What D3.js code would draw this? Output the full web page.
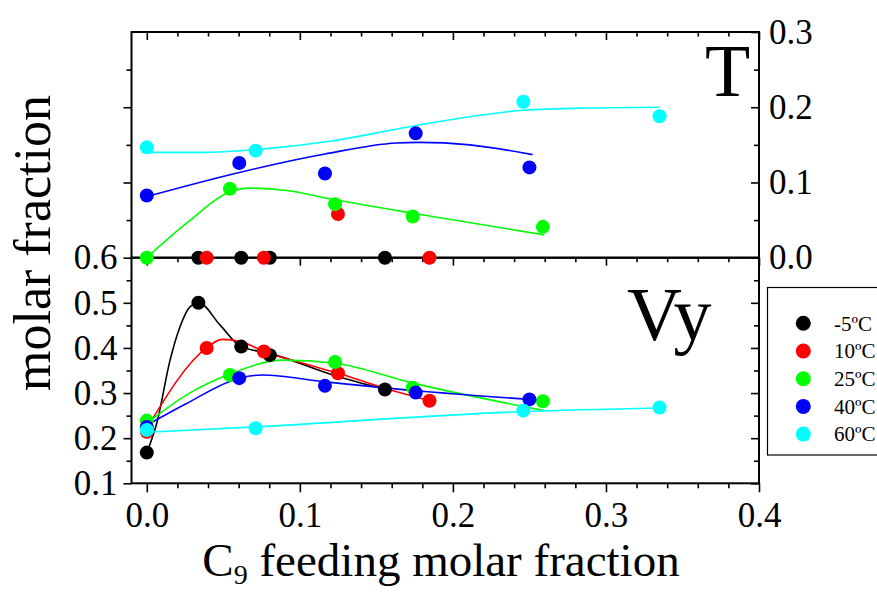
<!DOCTYPE html>
<html>
<head>
<meta charset="utf-8">
<script src="https://cdn.jsdelivr.net/npm/d3@7"></script>
<style>
  body { margin: 0; background: #fff; }
  text { font-family: "Liberation Serif", "Times New Roman", serif; fill: #000; }
</style>
</head>
<body>
<svg id="chart" width="877" height="593"></svg>
<script>
// Series: feeding temperature
const temps  = ["-5ºC", "10ºC", "25ºC", "40ºC", "60ºC"];
const colors = ["#000000", "#ff0000", "#00ff00", "#0000ff", "#00ffff"];

// Measured C9 feeding molar fraction for each series
const feedM5 = [0, 0.0337, 0.0617, 0.0804, 0.1556];
const feed10 = [0, 0.0391, 0.0765, 0.1249, 0.1847];
const feed25 = [0, 0.0543, 0.123, 0.1738, 0.2588];
const feed40 = [0, 0.0604, 0.1164, 0.1757, 0.250];
const feed60 = [0, 0.0711, 0.246, 0.335];

// T phase molar fraction (upper panel); -5ºC and 10ºC have no point at x = 0
const tFeedM5 = [0.0337, 0.0617, 0.0804, 0.1556];
const tM5     = [0, 0, 0, 0];
const tFeed10 = [0.0391, 0.0765, 0.1249, 0.1847];
const t10     = [0, 0, 0.058, 0];
const t25     = [0, 0.0916, 0.0712, 0.0547, 0.041];
const t40     = [0.0827, 0.1259, 0.112, 0.1653, 0.12];
const t60     = [0.1467, 0.1423, 0.2072, 0.188];

// Vy phase molar fraction (lower panel)
const vyM5 = [0.168, 0.500, 0.403, 0.384, 0.308];
const vy10 = [0.214, 0.400, 0.392, 0.344, 0.283];
const vy25 = [0.239, 0.340, 0.369, 0.312, 0.282];
const vy40 = [0.225, 0.333, 0.316, 0.301, 0.286];
const vy60 = [0.218, 0.222, 0.261, 0.268];

// Smoothed trend curves (knots along each fitted line)
const fitT25x = [0, 0.026, 0.0543, 0.0662, 0.0913, 0.123, 0.1738, 0.2597];
const fitT25y = [0, 0.0458, 0.0872, 0.0925, 0.0893, 0.077, 0.059, 0.0303];
const fitT40x = [0, 0.0604, 0.1164, 0.163, 0.178, 0.211, 0.252];
const fitT40y = [0.0813, 0.1133, 0.1378, 0.1525, 0.1533, 0.150, 0.137];
const fitT60x = [0, 0.037, 0.071, 0.1195, 0.161, 0.191, 0.246, 0.287, 0.335];
const fitT60y = [0.140, 0.140, 0.1436, 0.1547, 0.170, 0.181, 0.196, 0.199, 0.200];

const fitVM5x = [0, 0.0065, 0.0152, 0.0217, 0.0282, 0.0339, 0.0478, 0.0615, 0.0804, 0.1217, 0.1556];
const fitVM5y = [0.168, 0.233, 0.373, 0.447, 0.491, 0.500, 0.451, 0.403, 0.388, 0.34, 0.308];
const fitV10x = [0, 0.0391, 0.049, 0.0615, 0.0765, 0.102, 0.1249, 0.156, 0.1847];
const fitV10y = [0.222, 0.400, 0.419, 0.414, 0.392, 0.366, 0.344, 0.310, 0.283];
const fitV25x = [0, 0.026, 0.0543, 0.089, 0.123, 0.1738, 0.2597];
const fitV25y = [0.233, 0.296, 0.342, 0.373, 0.366, 0.322, 0.261];
const fitV40x = [0, 0.026, 0.0604, 0.075, 0.1164, 0.176, 0.25];
const fitV40y = [0.229, 0.277, 0.333, 0.340, 0.325, 0.305, 0.286];
const fitV60x = [0, 0.071, 0.246, 0.335];
const fitV60y = [0.213, 0.225, 0.259, 0.267];

// Tick labels
const xTickLabels  = ["0.0", "0.1", "0.2", "0.3", "0.4"];
const tTickLabels  = ["0.0", "0.1", "0.2", "0.3"];
const vyTickLabels = ["0.1", "0.2", "0.3", "0.4", "0.5", "0.6"];

const zip = (xs, ys) => xs.map((v, i) => [v, ys[i]]);

const tPoints = [zip(tFeedM5, tM5), zip(tFeed10, t10), zip(feed25, t25), zip(feed40, t40), zip(feed60, t60)];
const vPoints = [zip(feedM5, vyM5), zip(feed10, vy10), zip(feed25, vy25), zip(feed40, vy40), zip(feed60, vy60)];
const tFits = [null, null, zip(fitT25x, fitT25y), zip(fitT40x, fitT40y), zip(fitT60x, fitT60y)];
const vFits = [zip(fitVM5x, fitVM5y), zip(fitV10x, fitV10y), zip(fitV25x, fitV25y), zip(fitV40x, fitV40y), zip(fitV60x, fitV60y)];

const svg = d3.select("#chart");

const L = 131.5, R = 759, TOP = 32, MID = 257.7, BOT = 483.3;
const x  = d3.scaleLinear().domain([-0.01, 0.4]).range([L, R]);
const yT = d3.scaleLinear().domain([0, 0.3]).range([MID, TOP]);
const yV = d3.scaleLinear().domain([0.1, 0.6]).range([BOT, MID]);

const xMajor = xTickLabels.map(Number);
const xMinor = d3.range(0, 0.4001, 0.02).filter(v => !xMajor.some(m => Math.abs(m - v) < 1e-6));
const tMajor = tTickLabels.map(Number);
const tMinor = [0.05, 0.15, 0.25];
const vMajor = vyTickLabels.map(Number);
const vMinor = [0.15, 0.25, 0.35, 0.45, 0.55];

function styleAxis(g, fs) {
  g.select(".domain").remove();
  g.selectAll("line").attr("stroke", "#000").attr("stroke-width", 1.6);
  g.selectAll("text").attr("font-size", fs).attr("font-family", "Liberation Serif, Times New Roman, serif").attr("fill", "#000");
}

// Horizontal axes: ticks pointing downward at the top edge, the panel join and the bottom
[TOP, MID].forEach(yy => {
  svg.append("g").attr("transform", `translate(0,${yy})`)
    .call(d3.axisBottom(x).tickValues(xMajor).tickSize(8).tickFormat("")).call(g => styleAxis(g, 0));
  svg.append("g").attr("transform", `translate(0,${yy})`)
    .call(d3.axisBottom(x).tickValues(xMinor).tickSize(4.5).tickFormat("")).call(g => styleAxis(g, 0));
});
svg.append("g").attr("transform", `translate(0,${BOT})`)
  .call(d3.axisBottom(x).tickValues(xMajor).tickSize(9).tickPadding(10).tickFormat((d, i) => xTickLabels[i]))
  .call(g => styleAxis(g, 35));
svg.append("g").attr("transform", `translate(0,${BOT})`)
  .call(d3.axisBottom(x).tickValues(xMinor).tickSize(5).tickFormat("")).call(g => styleAxis(g, 0));

// Left axis: unlabeled ticks on the T panel, labelled Vy scale below
svg.append("g").attr("transform", `translate(${L},0)`)
  .call(d3.axisLeft(yT).tickValues([0.1, 0.2]).tickSize(8).tickFormat("")).call(g => styleAxis(g, 0));
svg.append("g").attr("transform", `translate(${L},0)`)
  .call(d3.axisLeft(yT).tickValues(tMinor).tickSize(5).tickFormat("")).call(g => styleAxis(g, 0));
svg.append("g").attr("transform", `translate(${L},0)`)
  .call(d3.axisLeft(yV).tickValues(vMajor).tickSize(8).tickPadding(6).tickFormat((d, i) => vyTickLabels[i]))
  .call(g => styleAxis(g, 35));
svg.append("g").attr("transform", `translate(${L},0)`)
  .call(d3.axisLeft(yV).tickValues(vMinor).tickSize(5).tickFormat("")).call(g => styleAxis(g, 0));

// Right axis: inward ticks, labels for the T scale
svg.append("g").attr("transform", `translate(${R},0)`)
  .call(d3.axisLeft(yT).tickValues(tMajor).tickSize(8).tickFormat("")).call(g => styleAxis(g, 0));
svg.append("g").attr("transform", `translate(${R},0)`)
  .call(d3.axisLeft(yT).tickValues(tMinor).tickSize(5).tickFormat("")).call(g => styleAxis(g, 0));
svg.append("g").attr("transform", `translate(${R},0)`)
  .call(d3.axisRight(yT).tickValues(tMajor).tickSize(0).tickPadding(10).tickFormat((d, i) => tTickLabels[i]))
  .call(g => styleAxis(g, 35));
svg.append("g").attr("transform", `translate(${R},0)`)
  .call(d3.axisLeft(yV).tickValues(vMajor.filter(v => v < 0.6)).tickSize(8).tickFormat("")).call(g => styleAxis(g, 0));
svg.append("g").attr("transform", `translate(${R},0)`)
  .call(d3.axisLeft(yV).tickValues(vMinor).tickSize(5).tickFormat("")).call(g => styleAxis(g, 0));

// Panel frames
svg.append("rect").attr("x", L).attr("y", TOP).attr("width", R - L).attr("height", MID - TOP)
  .attr("fill", "none").attr("stroke", "#000").attr("stroke-width", 2);
svg.append("rect").attr("x", L).attr("y", MID).attr("width", R - L).attr("height", BOT - MID)
  .attr("fill", "none").attr("stroke", "#000").attr("stroke-width", 2);

// Trend curves
const lineT = d3.line().x(d => x(d[0])).y(d => yT(d[1])).curve(d3.curveMonotoneX);
const lineV = d3.line().x(d => x(d[0])).y(d => yV(d[1])).curve(d3.curveMonotoneX);
tFits.forEach((f, i) => {
  if (!f) return;
  svg.append("path").attr("d", lineT(f)).attr("fill", "none").attr("stroke", colors[i]).attr("stroke-width", 1.6);
});
vFits.forEach((f, i) => {
  svg.append("path").attr("d", lineV(f)).attr("fill", "none").attr("stroke", colors[i]).attr("stroke-width", 1.6);
});

// Data points
tPoints.forEach((pts, i) => {
  svg.append("g").selectAll("circle").data(pts).join("circle")
    .attr("cx", d => x(d[0])).attr("cy", d => yT(d[1])).attr("r", 7).attr("fill", colors[i]);
});
vPoints.forEach((pts, i) => {
  svg.append("g").selectAll("circle").data(pts).join("circle")
    .attr("cx", d => x(d[0])).attr("cy", d => yV(d[1])).attr("r", 7).attr("fill", colors[i]);
});

// Panel names
svg.append("text").attr("x", 705).attr("y", 96).attr("font-size", 74).text("T");
svg.append("text").attr("x", 627).attr("y", 340).attr("font-size", 76).text("Vy");

// Axis titles
svg.append("text").attr("transform", "translate(50,243) rotate(-90)")
  .attr("text-anchor", "middle").attr("font-size", 52).text("molar fraction");
const xt = svg.append("text").attr("x", 441).attr("y", 576).attr("text-anchor", "middle").attr("font-size", 47);
xt.append("tspan").text("C");
xt.append("tspan").attr("dy", 8).attr("font-size", 28).text("9");
xt.append("tspan").attr("dy", -8).text(" feeding molar fraction");

// Legend
const lg = svg.append("g");
lg.append("rect").attr("x", 767.5).attr("y", 287.5).attr("width", 140).attr("height", 167.5)
  .attr("fill", "#fff").attr("stroke", "#000").attr("stroke-width", 1.2);
temps.forEach((t, i) => {
  const cy = 323.3 + i * 27.7;
  lg.append("circle").attr("cx", 803.3).attr("cy", cy).attr("r", 7.5).attr("fill", colors[i]);
  lg.append("text").attr("x", 834).attr("y", cy).attr("dy", "0.35em").attr("font-size", 21).text(t);
});
</script>
</body>
</html>
